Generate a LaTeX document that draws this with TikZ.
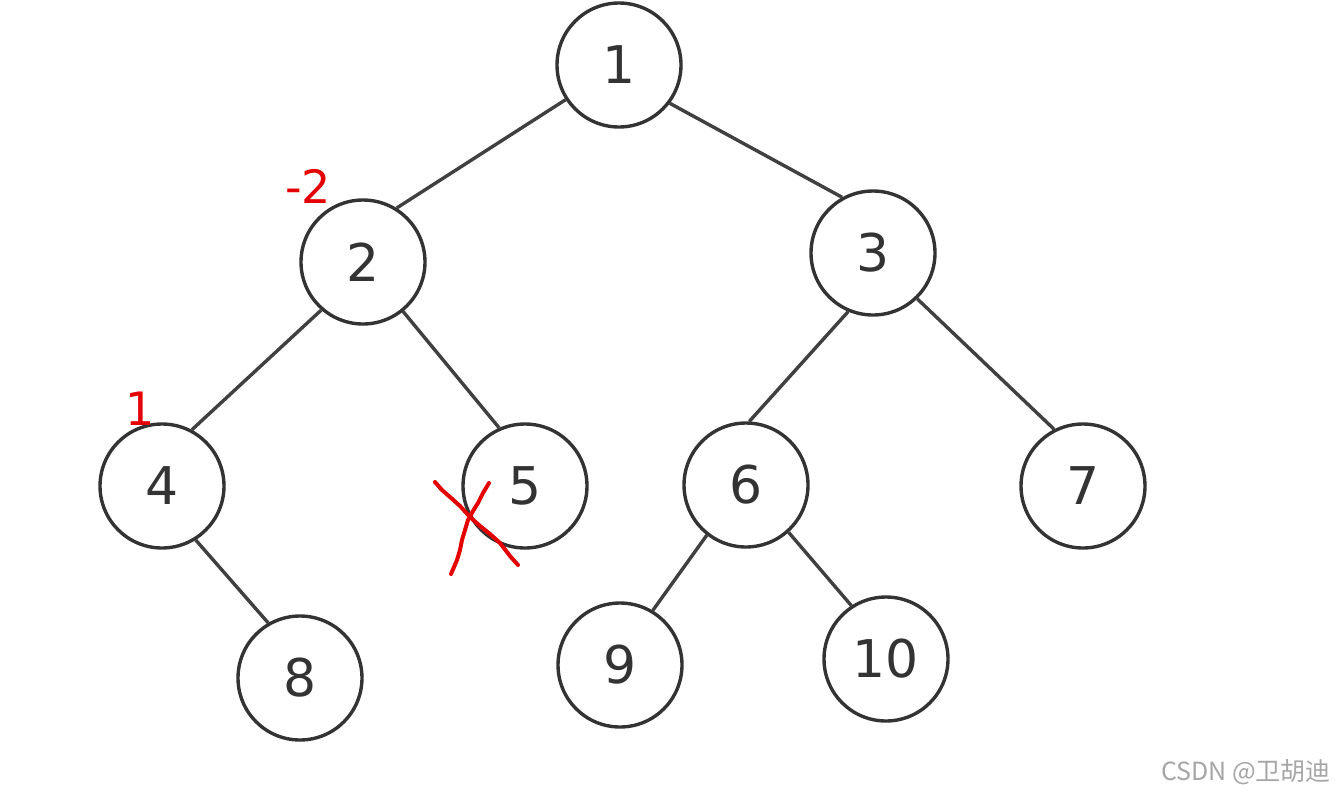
\documentclass[tikz,border=0pt]{standalone}
\usepackage{fontspec}
\setmainfont{DejaVu Sans}
\newfontfamily\cjk{Noto Sans CJK SC}
\begin{document}
\begin{tikzpicture}[x=1pt,y=-1pt,
  tnode/.style={circle,draw=black!80,line width=3.4pt,minimum size=124pt,inner sep=0pt,
    font=\fontsize{52}{52}\selectfont,text=black!80,fill=white},
  tedge/.style={draw=black!75,line width=3.4pt},
  redlbl/.style={text=red!90!black,font=\fontsize{46}{46}\selectfont,inner sep=0pt},
  redmark/.style={draw=red!90!black,line width=4pt,line cap=round,line join=round}]
\useasboundingbox[fill=white] (0,0) rectangle (1336,796);
\node[tnode] (n1) at (619,65) {1};
\node[tnode] (n2) at (363,262) {2};
\node[tnode] (n3) at (873,253) {3};
\node[tnode] (n4) at (162,486) {4};
\node[tnode] (n5) at (525,486) {5};
\node[tnode] (n6) at (746,485) {6};
\node[tnode] (n7) at (1083,486) {7};
\node[tnode] (n8) at (300,678) {8};
\node[tnode] (n9) at (620,665) {9};
\node[tnode] (n10) at (886,659) {10};
\draw[tedge] (n1.213) -- (n2.58);
\draw[tedge] (n1.323) -- (n3.119);
\draw[tedge] (n2.229) -- (n4.62);
\draw[tedge] (n2.309) -- (n5.114);
\draw[tedge] (n3.247) -- (n6.87);
\draw[tedge] (n3.314) -- (n7.117);
\draw[tedge] (n4.302) -- (n8.120);
\draw[tedge] (n6.232) -- (n9.59);
\draw[tedge] (n6.312) -- (n10.123);
\node[redlbl] (lbl2) at (308,186) {-2};
\node[redlbl] (lbl4) at (140,409) {1};
\draw[redmark] (435,482) -- (442,490) -- (450,497) -- (460,506) -- (470,517) -- (480,526) -- (490,534) -- (500,543) -- (510,556) -- (518,565);
\draw[redmark] (489,483) -- (483,493) -- (478,503) -- (473,511) -- (468,520) -- (465,530) -- (462,540) -- (460,550) -- (457,560) -- (451,574);
\node[text=black!35,font=\cjk\fontsize{25}{25}\selectfont,inner sep=0pt] (wm) at (1246,772) {CSDN @卫胡迪};
\end{tikzpicture}
\end{document}
